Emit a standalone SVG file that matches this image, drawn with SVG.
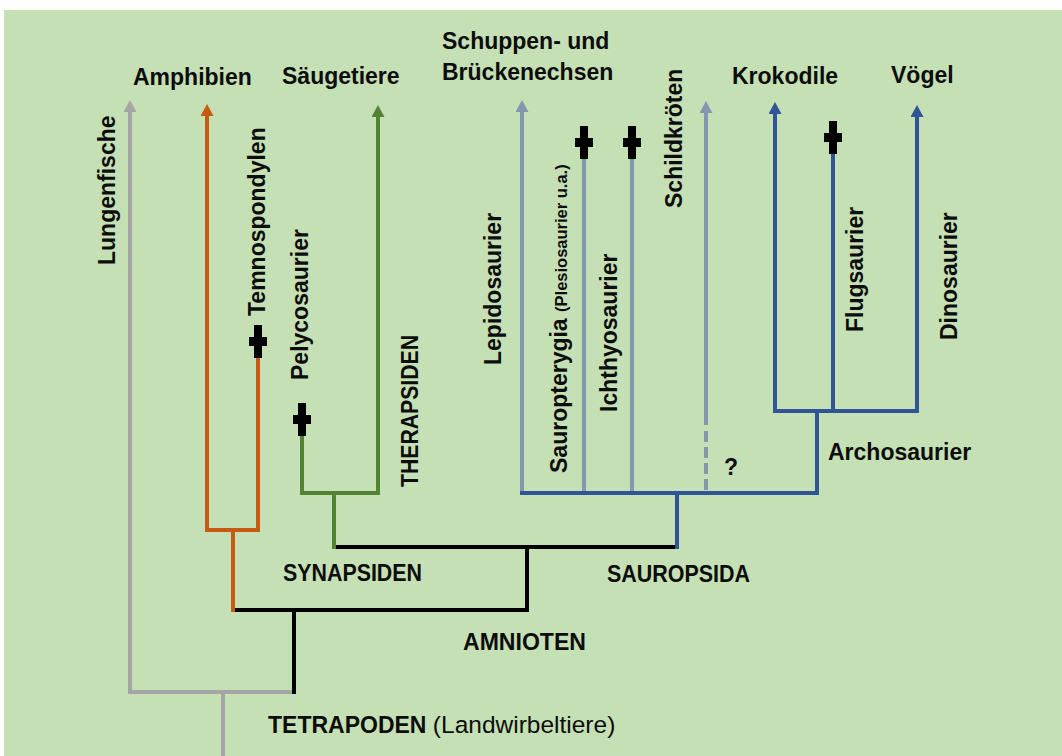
<svg xmlns="http://www.w3.org/2000/svg" width="1062" height="756" viewBox="0 0 1062 756">
  <style>
    .t { font-family: "Liberation Sans", Arial, sans-serif; font-weight: bold; font-size: 23px; fill: #0d0d0d; }
    .r { font-weight: normal; }
    .ln { fill: none; stroke-width: 4; stroke-linecap: square; stroke-linejoin: miter; }
    .gray { stroke: #A5A5A5; }
    .black { stroke: #000; }
    .orange { stroke: #C55A11; }
    .green { stroke: #548235; }
    .blue { stroke: #2F5597; }
    .lblue { stroke: #8497B0; }
    .cross { fill: #000; }
  </style>
  <defs>
    <marker id="aGray" viewBox="0 0 12 13" refX="2" refY="6.5" markerWidth="12" markerHeight="13" markerUnits="userSpaceOnUse" orient="auto">
      <path d="M0,0 L12,6.5 L0,13 z" fill="#A5A5A5"/>
    </marker>
    <marker id="aOrange" viewBox="0 0 12 13" refX="2" refY="6.5" markerWidth="12" markerHeight="13" markerUnits="userSpaceOnUse" orient="auto">
      <path d="M0,0 L12,6.5 L0,13 z" fill="#C55A11"/>
    </marker>
    <marker id="aGreen" viewBox="0 0 12 13" refX="2" refY="6.5" markerWidth="12" markerHeight="13" markerUnits="userSpaceOnUse" orient="auto">
      <path d="M0,0 L12,6.5 L0,13 z" fill="#548235"/>
    </marker>
    <marker id="aBlue" viewBox="0 0 12 13" refX="2" refY="6.5" markerWidth="12" markerHeight="13" markerUnits="userSpaceOnUse" orient="auto">
      <path d="M0,0 L12,6.5 L0,13 z" fill="#2F5597"/>
    </marker>
    <marker id="aLBlue" viewBox="0 0 12 13" refX="2" refY="6.5" markerWidth="12" markerHeight="13" markerUnits="userSpaceOnUse" orient="auto">
      <path d="M0,0 L12,6.5 L0,13 z" fill="#8497B0"/>
    </marker>
    <g id="cross">
      <rect x="-4" y="0" width="8" height="33"/>
      <rect x="-9" y="12" width="18" height="9"/>
    </g>
  </defs>

  <rect x="0" y="0" width="1062" height="756" fill="#FFFFFF"/>
  <rect x="4" y="10" width="1058" height="746" fill="#C5E0B4"/>

  <g id="connectors">
    <path class="ln gray" d="M223,756 V692"/>
    <path class="ln gray" d="M294,692 H130 V110" style="stroke-linecap:butt" marker-end="url(#aGray)"/>
    <path class="ln black" d="M294,692 V610"/>
    <path class="ln black" d="M233,610 H527 V547"/>
    <path class="ln black" d="M334,547 H677"/>
    <path class="ln orange" d="M233,610 V530"/>
    <path class="ln orange" d="M258,357 V530 H207 V114" style="stroke-linecap:butt" marker-end="url(#aOrange)"/>
    <path class="ln green" d="M334,547 V493"/>
    <path class="ln green" d="M302,435 V493 H378 V115" style="stroke-linecap:butt" marker-end="url(#aGreen)"/>
    <path class="ln blue" d="M677,547 V493"/>
    <path class="ln blue" d="M522,493 H817 V411"/>
    <path class="ln blue" d="M833,411 V153"/>
    <path class="ln blue" d="M775,411 H917"/>
    <path class="ln blue" d="M775,411 V112" style="stroke-linecap:butt" marker-end="url(#aBlue)"/>
    <path class="ln blue" d="M917,411 V115" style="stroke-linecap:butt" marker-end="url(#aBlue)"/>
    <path class="ln lblue" d="M522,491 V110" style="stroke-linecap:butt" marker-end="url(#aLBlue)"/>
    <path class="ln lblue" d="M584,491 V159" style="stroke-linecap:butt"/>
    <path class="ln lblue" d="M632,491 V159" style="stroke-linecap:butt"/>
    <path class="ln lblue" d="M706,425 V111" style="stroke-linecap:butt" marker-end="url(#aLBlue)"/>
    <path class="ln lblue" d="M706,431 V491" style="stroke-linecap:butt" stroke-dasharray="11 5"/>
  </g>

  <g id="extinct-markers" class="cross">
    <use href="#cross" x="258" y="325"/>
    <use href="#cross" x="302" y="403"/>
    <use href="#cross" x="584" y="126"/>
    <use href="#cross" x="632" y="126"/>
    <use href="#cross" x="833" y="121"/>
  </g>

  <g id="node-lungenfische"><text class="t" font-size="22" transform="translate(115,265) rotate(-90)">Lungenfische</text></g>
  <g id="node-amphibien"><text class="t" x="133" y="85">Amphibien</text></g>
  <g id="node-temnospondylen"><text class="t" transform="translate(265,316) rotate(-90)">Temnospondylen</text></g>
  <g id="node-saeugetiere"><text class="t" font-size="22.5" x="282" y="84">Säugetiere</text></g>
  <g id="node-pelycosaurier"><text class="t" transform="translate(308,380) rotate(-90)">Pelycosaurier</text></g>
  <g id="node-therapsiden"><text class="t" font-size="22" textLength="152" lengthAdjust="spacingAndGlyphs" transform="translate(418,487) rotate(-90)">THERAPSIDEN</text></g>
  <g id="node-synapsiden"><text class="t" font-size="22" textLength="139" lengthAdjust="spacingAndGlyphs" x="283" y="581">SYNAPSIDEN</text></g>
  <g id="node-amnioten"><text class="t" font-size="22" textLength="123" lengthAdjust="spacingAndGlyphs" x="463" y="650">AMNIOTEN</text></g>
  <g id="node-tetrapoden"><text class="t" font-size="21.5" x="268" y="733">TETRAPODEN <tspan class="r" font-size="24.5">(Landwirbeltiere)</tspan></text></g>
  <g id="node-sauropsida"><text class="t" font-size="22" textLength="143" lengthAdjust="spacingAndGlyphs" x="607" y="582">SAUROPSIDA</text></g>
  <g id="node-schuppen">
    <text class="t" font-size="22" x="442" y="49">Schuppen- und</text>
    <text class="t" font-size="21.6" x="442" y="80">Brückenechsen</text>
  </g>
  <g id="node-lepidosaurier"><text class="t" transform="translate(501,365) rotate(-90)">Lepidosaurier</text></g>
  <g id="node-sauropterygia"><text class="t" transform="translate(567,473) rotate(-90)">Sauropterygia <tspan font-size="16.5">(Plesiosaurier u.a.)</tspan></text></g>
  <g id="node-ichthyosaurier"><text class="t" transform="translate(617,412) rotate(-90)">Ichthyosaurier</text></g>
  <g id="node-schildkroeten"><text class="t" font-size="22.5" transform="translate(682,208) rotate(-90)">Schildkröten</text></g>
  <g id="node-unknown"><text class="t" font-size="27" x="724" y="475">?</text></g>
  <g id="node-krokodile"><text class="t" font-size="22.5" x="732" y="84">Krokodile</text></g>
  <g id="node-voegel"><text class="t" font-size="22" x="891" y="83">Vögel</text></g>
  <g id="node-flugsaurier"><text class="t" font-size="22" transform="translate(863,332) rotate(-90)">Flugsaurier</text></g>
  <g id="node-dinosaurier"><text class="t" font-size="23" transform="translate(957,340) rotate(-90)">Dinosaurier</text></g>
  <g id="node-archosaurier"><text class="t" font-size="22.5" x="828" y="460">Archosaurier</text></g>
</svg>
